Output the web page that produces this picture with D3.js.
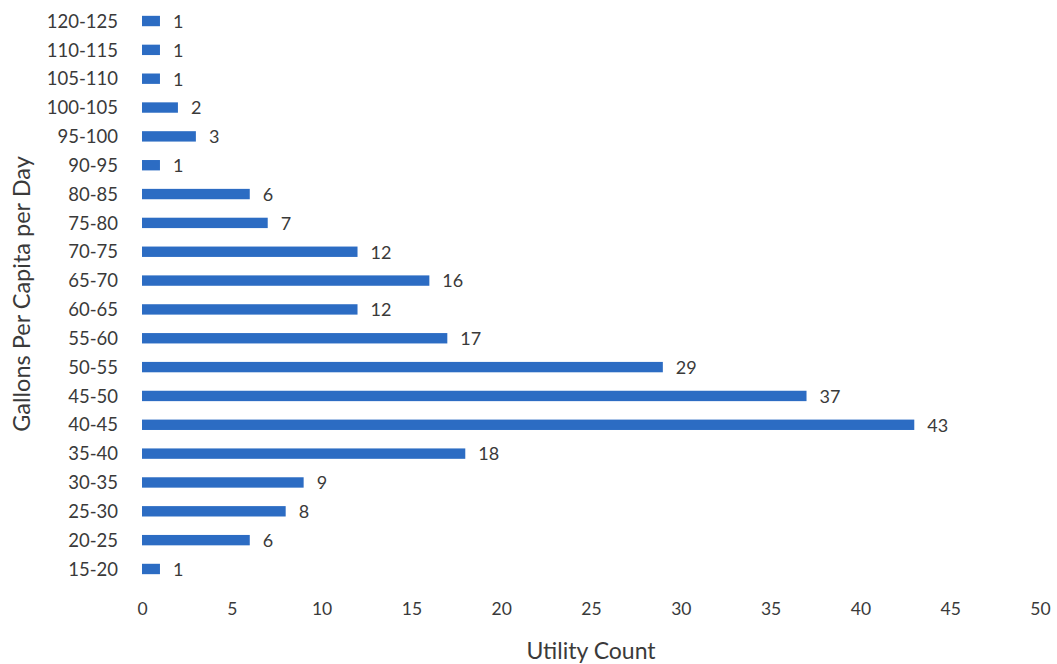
<!DOCTYPE html>
<html>
<head>
<meta charset="utf-8">
<script src="https://cdn.jsdelivr.net/npm/d3@7/dist/d3.min.js"></script>
<style>
  html, body { margin: 0; padding: 0; background: #fff; }
  svg { display: block; }
  text { font-family: Lato, "Open Sans", sans-serif; fill: #3a3a3a; }
</style>
</head>
<body>
<svg id="chart" width="1057" height="664"></svg>
<script>
// Gallons-per-capita-per-day bins, top to bottom
const categories = ["120-125","110-115","105-110","100-105","95-100","90-95","80-85","75-80","70-75",
  "65-70","60-65","55-60","50-55","45-50","40-45","35-40","30-35","25-30","20-25","15-20"];
// Number of utilities in each bin
const counts = [1,1,1,2,3,1,6,7,12,16,12,17,29,37,43,18,9,8,6,1];
const xTicks = [0,5,10,15,20,25,30,35,40,45,50];
const xTitle = "Utility Count";
const yTitle = "Gallons Per Capita per Day";

const svg = d3.select("#chart");

const x = d3.scaleLinear().domain([0, 50]).range([142, 1040]);
const y = d3.scaleBand().domain(categories).range([6.6, 583.4])
  .paddingInner(0.64).paddingOuter(0.32);

// bars
svg.append("g").selectAll("rect")
  .data(categories)
  .join("rect")
  .attr("x", x(0))
  .attr("y", (d) => y(d))
  .attr("width", (d, i) => x(counts[i]) - x(0))
  .attr("height", y.bandwidth())
  .attr("fill", "#2c6cc3");

// value labels
svg.append("g").selectAll("text")
  .data(categories)
  .join("text")
  .attr("x", (d, i) => x(counts[i]) + 13)
  .attr("y", (d) => y(d) + y.bandwidth() / 2)
  .attr("dy", "0.38em")
  .attr("font-size", 18)
  .text((d, i) => counts[i]);

// category axis (labels only)
const yAxis = svg.append("g")
  .attr("transform", `translate(${x(0) - 24},0)`)
  .call(d3.axisLeft(y).tickSize(0).tickPadding(0));
yAxis.select(".domain").remove();
yAxis.selectAll("text")
  .attr("font-size", 18.5)
  .attr("font-family", "Lato, 'Open Sans', sans-serif")
  .attr("fill", "#3a3a3a")
  .attr("dy", "0.36em");

// value axis (labels only)
const xAxis = svg.append("g")
  .attr("transform", "translate(0,603)")
  .call(d3.axisBottom(x).tickValues(xTicks).tickSize(0).tickPadding(0));
xAxis.select(".domain").remove();
xAxis.selectAll("text")
  .attr("font-size", 17.5)
  .attr("font-family", "Lato, 'Open Sans', sans-serif")
  .attr("fill", "#3a3a3a")
  .attr("dy", "0.71em");

// axis titles
svg.append("text")
  .attr("x", 591)
  .attr("y", 659)
  .attr("text-anchor", "middle")
  .attr("font-size", 23)
  .text(xTitle);

svg.append("text")
  .attr("transform", "translate(30,294) rotate(-90)")
  .attr("text-anchor", "middle")
  .attr("font-size", 23.5)
  .text(yTitle);
</script>
</body>
</html>
